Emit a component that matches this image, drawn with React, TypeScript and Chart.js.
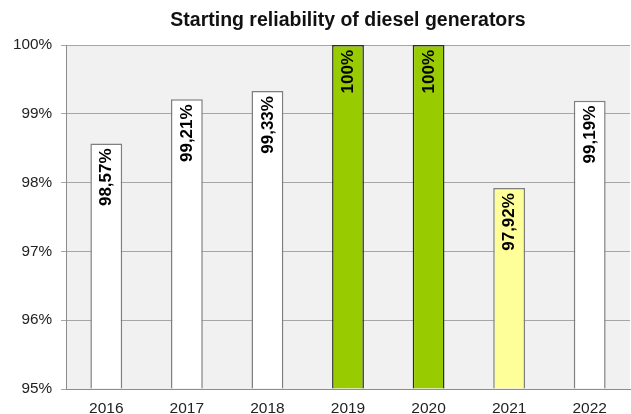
import React, { useEffect, useRef } from "react";
import { Chart, registerables } from "chart.js";

Chart.register(...registerables);

const TITLE = "Starting reliability of diesel generators";
const years = ["2016", "2017", "2018", "2019", "2020", "2021", "2022"];
const reliability = [98.57, 99.21, 99.33, 100, 100, 97.92, 99.19];
const barColors = ["#ffffff", "#ffffff", "#ffffff", "#99cc00", "#99cc00", "#ffff99", "#ffffff"];
const barBorders = ["#7f7f7f", "#7f7f7f", "#7f7f7f", "#2b2b2b", "#2b2b2b", "#7f7f7f", "#7f7f7f"];
const yMin = 95;
const yMax = 100;

const FONT = "'Liberation Sans', Arial, Helvetica, sans-serif";

function fmt(v: number): string {
  if (v === 100) return "100%";
  return v.toFixed(2).replace(".", ",") + "%";
}

const bgPlugin = {
  id: "plotBg",
  beforeDraw(chart: any) {
    const { ctx, chartArea } = chart;
    if (!chartArea) return;
    ctx.save();
    ctx.fillStyle = "#f1f1f1";
    ctx.fillRect(chartArea.left, chartArea.top, chartArea.right - chartArea.left, chartArea.bottom - chartArea.top);
    ctx.restore();
  },
};

const titlePlugin = {
  id: "areaTitle",
  afterDraw(chart: any) {
    const { ctx, chartArea } = chart;
    ctx.save();
    ctx.fillStyle = "#111111";
    ctx.font = `bold 19.5px ${FONT}`;
    ctx.textAlign = "center";
    ctx.textBaseline = "middle";
    ctx.fillText(TITLE, (chartArea.left + chartArea.right) / 2, 21);
    ctx.restore();
  },
};

const labelPlugin = {
  id: "barLabels",
  afterDatasetsDraw(chart: any) {
    const { ctx } = chart;
    const meta = chart.getDatasetMeta(0);
    const data = chart.data.datasets[0].data as number[];
    ctx.save();
    ctx.fillStyle = "#000000";
    ctx.font = `bold 17px ${FONT}`;
    ctx.textAlign = "right";
    ctx.textBaseline = "middle";
    meta.data.forEach((el: any, i: number) => {
      ctx.save();
      ctx.translate(el.x + 0.5, el.y + 5);
      ctx.rotate(-Math.PI / 2);
      ctx.fillText(fmt(data[i]), 0, 0);
      ctx.restore();
    });
    ctx.restore();
  },
};

export default function App() {
  const ref = useRef<HTMLCanvasElement | null>(null);

  useEffect(() => {
    if (!ref.current) return;
    const chart = new Chart(ref.current, {
      type: "bar",
      data: {
        labels: years,
        datasets: [
          {
            data: reliability,
            backgroundColor: barColors,
            borderColor: barBorders,
            borderWidth: 1.5,
            barPercentage: 0.395,
            categoryPercentage: 1,
            base: yMin,
          },
        ],
      },
      options: {
        animation: false,
        responsive: true,
        maintainAspectRatio: false,
        layout: { padding: { left: 0, right: 1, top: 45, bottom: 0 } },
        plugins: {
          legend: { display: false },
          tooltip: { enabled: false },
          title: { display: false },
        },
        scales: {
          x: {
            grid: { display: false, drawTicks: false },
            border: { display: true, color: "#8c8c8c", width: 1 },
            ticks: {
              color: "#222222",
              font: { family: FONT, size: 15.5 },
              padding: 10,
              maxRotation: 0,
            },
            afterFit: (axis: any) => {
              axis.height = 25;
            },
          },
          y: {
            min: yMin,
            max: yMax,
            grid: { color: "#a6a6a6", lineWidth: 1, tickLength: 5, drawTicks: true },
            border: { display: true, color: "#8c8c8c", width: 1 },
            ticks: {
              stepSize: 1,
              color: "#222222",
              font: { family: FONT, size: 15.3 },
              padding: 9,
              callback: (v: any) => `${v}%`,
            },
            afterFit: (axis: any) => {
              axis.width = 66;
            },
          },
        },
      },
      plugins: [bgPlugin, labelPlugin, titlePlugin],
    });
    return () => chart.destroy();
  }, []);

  return (
    <div style={{ position: "fixed", left: 0, top: 0, width: 631, height: 414, background: "#ffffff" }}>
      <canvas ref={ref} />
    </div>
  );
}
